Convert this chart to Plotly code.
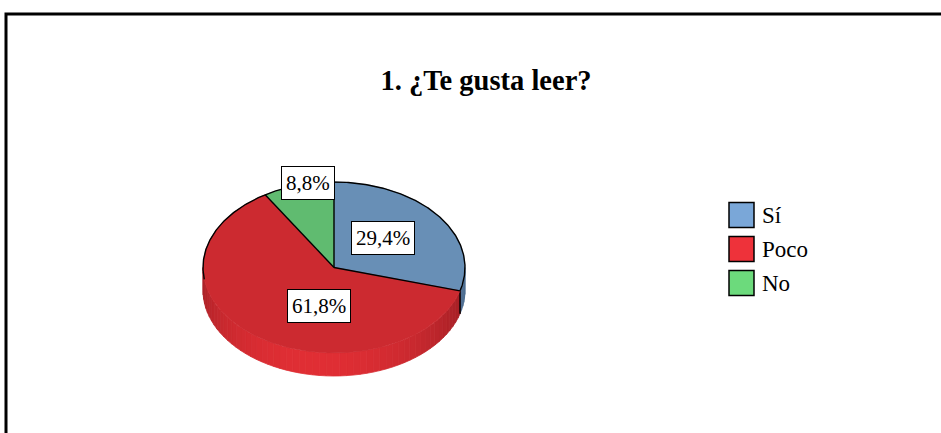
import numpy as np
import plotly.graph_objects as go

# ---------------- data ----------------
categories = ["Sí", "Poco", "No"]
values = [29.4, 61.8, 8.8]
label_texts = ["29,4%", "61,8%", "8,8%"]
title_text = "1. ¿Te gusta leer?"

# ---------------- styles / layout ----------------
top_colors = ["rgb(104,143,182)", "rgb(204,42,48)", "rgb(96,187,112)"]
side_dark = [(78, 110, 146), (164, 32, 38), (66, 140, 80)]
side_light = [(92, 128, 168), (224, 46, 52), (80, 165, 95)]
legend_colors = ["rgb(122,167,216)", "rgb(238,50,58)", "rgb(108,218,124)"]
FONT = "Times New Roman, Liberation Serif, serif"

W, H = 941, 433
CX, CY, RX, RY, DEPTH = 334, 267.5, 131, 85.5, 23
label_offsets = [(0.47, 0.58), (0.19, 0.57), (0.73, 1.03)]  # radial factors (x, y)


def pts(theta_deg, dy=0.0):
    t = np.radians(np.asarray(theta_deg, dtype=float))
    return CX + RX * np.sin(t), CY - RY * np.cos(t) + dy


total = float(sum(values))
bounds = np.concatenate([[0.0], np.cumsum(values) / total * 360.0])

fig = go.Figure()

# ---- side walls (front half only: 90..270 deg) ----
for i in range(len(values)):
    a, b = bounds[i], bounds[i + 1]
    lo, hi = max(a, 90.0), min(b, 270.0)
    if hi <= lo:
        continue
    nseg = max(1, int(np.ceil((hi - lo) / 3.0)))
    edges = np.linspace(lo, hi, nseg + 1)
    for s in range(nseg):
        t1, t2 = edges[s], edges[s + 1]
        th = np.linspace(t1, t2, 4)
        xt, yt = pts(th)
        xb, yb = pts(th[::-1], DEPTH)
        mid = 0.5 * (t1 + t2)
        k = max(0.0, np.cos(np.radians(mid - 190.0))) ** 1.3
        c = tuple(int(round(d + (l - d) * k)) for d, l in zip(side_dark[i], side_light[i]))
        col = "rgb(%d,%d,%d)" % c
        fig.add_trace(go.Scatter(
            x=np.concatenate([xt, xb, xt[:1]]), y=np.concatenate([yt, yb, yt[:1]]),
            mode="lines", fill="toself", fillcolor=col,
            line=dict(color=col, width=0.8), hoverinfo="skip", showlegend=False))

# vertical edges on the side where a slice boundary is visible
for ang in bounds[1:-1]:
    if 90.0 < ang < 270.0:
        x0, y0 = pts(ang)
        x1, y1 = pts(ang, DEPTH)
        fig.add_trace(go.Scatter(x=[x0, x1], y=[y0, y1], mode="lines",
                                 line=dict(color="black", width=1.5),
                                 hoverinfo="skip", showlegend=False))

# ---- top faces ----
for i in range(len(values)):
    a, b = bounds[i], bounds[i + 1]
    th = np.linspace(a, b, max(8, int((b - a) * 1.5)))
    xa, ya = pts(th)
    fig.add_trace(go.Scatter(
        x=np.concatenate([[CX], xa, [CX]]), y=np.concatenate([[CY], ya, [CY]]),
        mode="lines", fill="toself", fillcolor=top_colors[i],
        line=dict(color=top_colors[i], width=0.6), name=categories[i],
        hoverinfo="skip", showlegend=False))

# black outline: back rim (plus first slice's front part) and radial edges
rim_end = bounds[1] if bounds[1] > 90 else 90.0
th = np.linspace(262.0, 360.0 + rim_end, 300)
xr, yr = pts(th)
fig.add_trace(go.Scatter(x=xr, y=yr, mode="lines", line=dict(color="black", width=1.4),
                         hoverinfo="skip", showlegend=False))
for ang in bounds[:-1]:
    xe, ye = pts(ang)
    fig.add_trace(go.Scatter(x=[CX, xe], y=[CY, ye], mode="lines",
                             line=dict(color="black", width=1.4),
                             hoverinfo="skip", showlegend=False))

# ---- data labels ----
for i in range(len(values)):
    mid = 0.5 * (bounds[i] + bounds[i + 1])
    fx, fy = label_offsets[i]
    t = np.radians(mid)
    lx = CX + RX * np.sin(t) * fx
    ly = CY - RY * np.cos(t) * fy
    fig.add_annotation(x=lx, y=ly, xref="x", yref="y", text=label_texts[i],
                       showarrow=False, font=dict(family=FONT, size=21, color="black"),
                       bgcolor="white", bordercolor="black", borderwidth=1, borderpad=4)

# ---- legend (manual) ----
LX, LY0, LDY, LS = 729, 215, 34, 25
for i, cat in enumerate(categories):
    yc = LY0 + i * LDY
    fig.add_shape(type="rect", xref="x", yref="y", x0=LX, x1=LX + LS,
                  y0=yc - LS / 2, y1=yc + LS / 2, fillcolor=legend_colors[i],
                  line=dict(color="black", width=1.5))
    fig.add_annotation(x=LX + LS + 6, y=yc, xref="x", yref="y", text=cat,
                       xanchor="left", yanchor="middle", showarrow=False,
                       font=dict(family=FONT, size=23, color="black"))

# ---- outer frame ----
fig.add_shape(type="rect", xref="x", yref="y", x0=6, y0=14, x1=W + 20, y1=H + 20,
              line=dict(color="black", width=3), fillcolor="rgba(0,0,0,0)")

fig.update_layout(
    width=W, height=H, margin=dict(l=0, r=0, t=0, b=0),
    paper_bgcolor="white", plot_bgcolor="white",
    title=dict(text="<b>%s</b>" % title_text, x=486 / W, y=1 - 80 / H,
               xanchor="center", yanchor="middle",
               font=dict(family=FONT, size=28.5, color="black")),
    xaxis=dict(range=[0, W], visible=False, fixedrange=True),
    yaxis=dict(range=[H, 0], visible=False, fixedrange=True),
    showlegend=False,
)

fig.write_html("out.html", config={"displayModeBar": False},
               post_script="document.body.style.margin='0';")
